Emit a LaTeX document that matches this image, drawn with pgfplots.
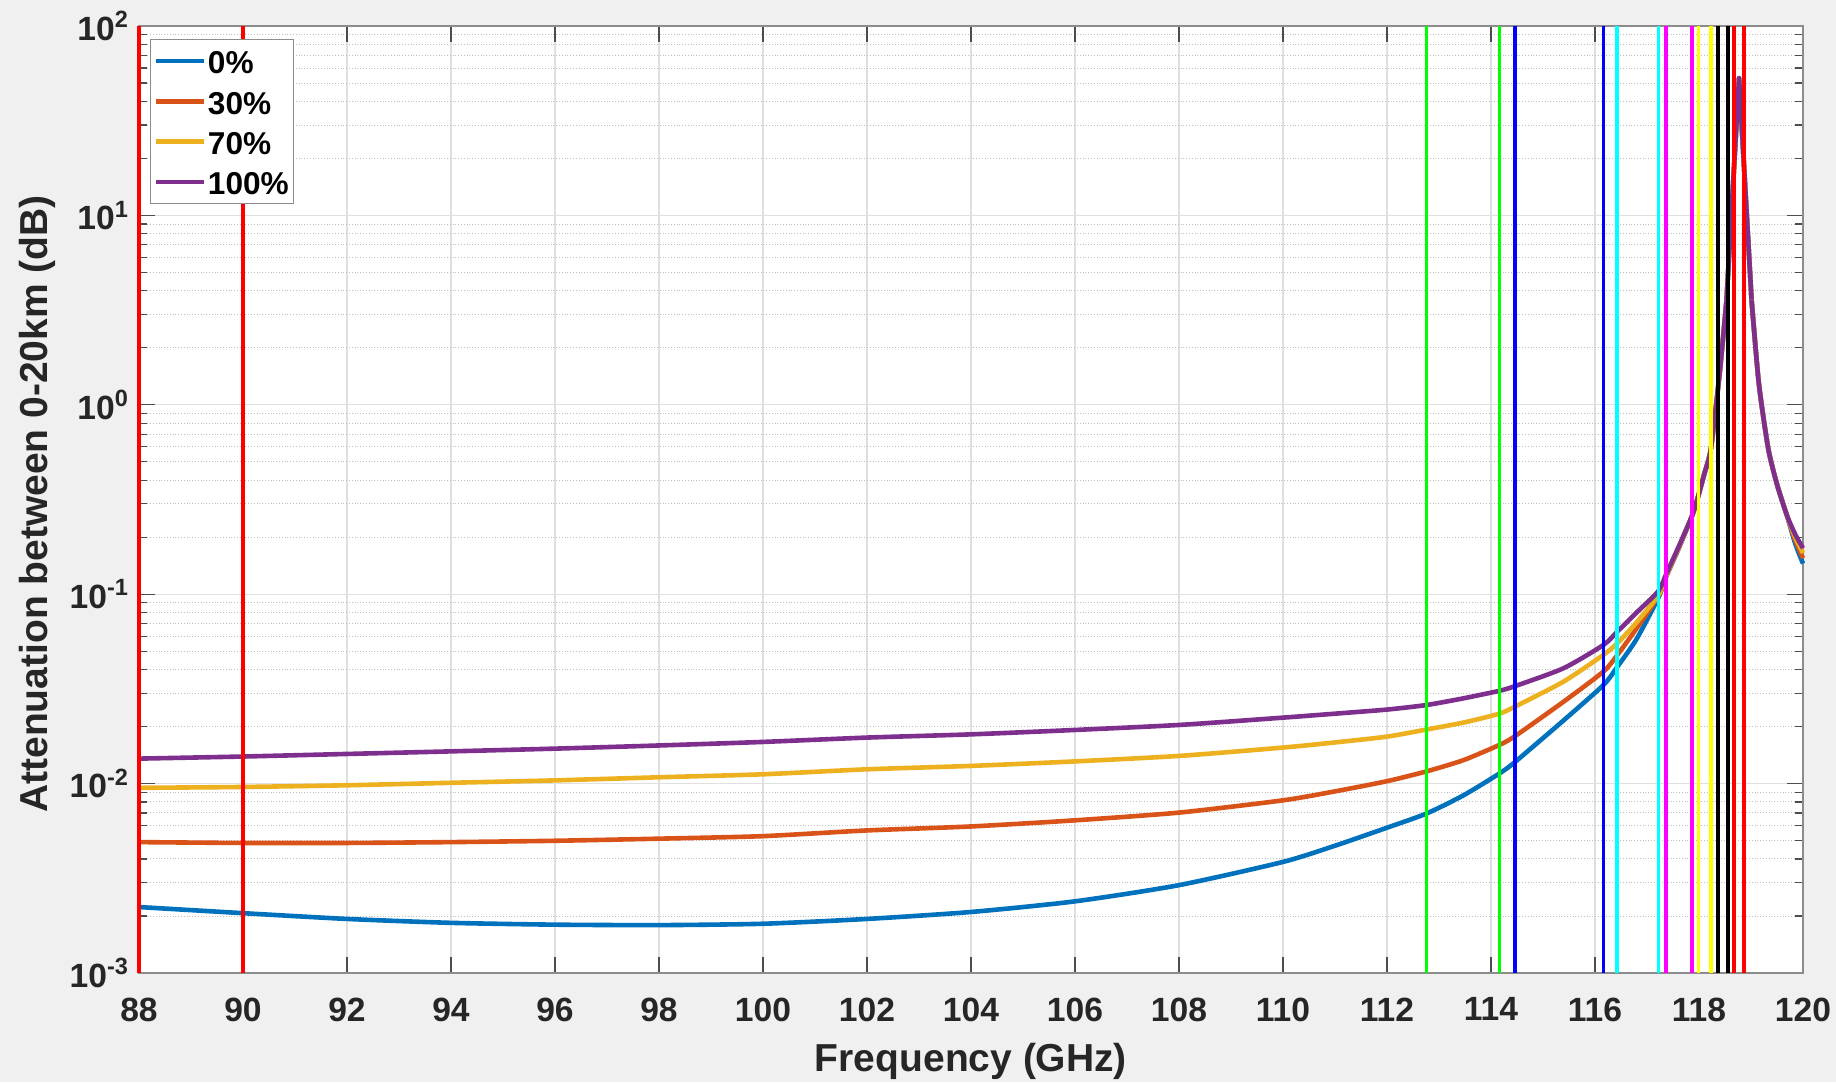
\documentclass[border=0pt]{standalone}
\usepackage{fontspec}
\setmainfont{Liberation Sans}
\usepackage{pgfplots}
\usepackage{pgfplotstable}
\pgfplotsset{compat=1.18}
\definecolor{mblue}{rgb}{0,0.447,0.741}
\definecolor{morange}{rgb}{0.85,0.325,0.098}
\definecolor{myellow}{rgb}{0.929,0.694,0.125}
\definecolor{mpurple}{rgb}{0.494,0.184,0.556}
\definecolor{figbg}{rgb}{0.941,0.941,0.941}
\definecolor{lred}{rgb}{1,0,0}
\definecolor{lgreen}{rgb}{0,1,0}
\definecolor{lblue}{rgb}{0,0,1}
\definecolor{lcyan}{rgb}{0,1,1}
\definecolor{lmagenta}{rgb}{1,0,1}
\definecolor{lyellow}{rgb}{1,1,0}
\definecolor{lblack}{rgb}{0,0,0}

\pgfplotstableread{
f a
88 2.23e-3
90 2.07e-3
92 1.93e-3
94 1.84e-3
96 1.80e-3
98 1.79e-3
100 1.82e-3
102 1.93e-3
104 2.10e-3
106 2.39e-3
108 2.91e-3
110 3.86e-3
111 4.70e-3
112 5.85e-3
112.76 6.95e-3
113.47 8.67e-3
114.16 0.0113
114.46 0.0130
115.39 0.0215
116.16 0.0331
116.43 0.0414
116.8 0.058
117.22 0.096
117.37 0.124
117.6 0.172
117.87 0.261
117.99 0.333
118.1 0.43
118.23 0.59
118.4 1.5
118.53 3.57
118.77 53
119.01 3.6
119.15 1.3
119.33 0.59
119.5 0.38
119.69 0.261
119.85 0.185
120 0.145
}\tblA

\pgfplotstableread{
f a
88 4.91e-3
90 4.86e-3
92 4.86e-3
94 4.91e-3
96 4.99e-3
98 5.12e-3
100 5.28e-3
102 5.66e-3
104 5.94e-3
106 6.40e-3
108 7.03e-3
110 8.16e-3
111 9.1e-3
112 0.0103
112.76 0.0116
113.47 0.0133
114.16 0.0160
114.46 0.0178
115.39 0.0270
116.16 0.0390
116.43 0.0478
116.8 0.066
117.22 0.098
117.37 0.125
117.6 0.173
117.87 0.261
117.99 0.333
118.1 0.43
118.23 0.59
118.4 1.5
118.53 3.57
118.77 53
119.01 3.6
119.15 1.3
119.33 0.59
119.5 0.38
119.69 0.261
119.85 0.193
120 0.155
}\tblB

\pgfplotstableread{
f a
88 9.5e-3
90 9.6e-3
92 9.8e-3
94 0.0101
96 0.0104
98 0.0108
100 0.0112
102 0.0119
104 0.0124
106 0.0131
108 0.0140
110 0.0155
111 0.0165
112 0.0177
112.76 0.0193
113.47 0.0210
114.16 0.0234
114.46 0.0255
115.39 0.0345
116.16 0.0478
116.43 0.0551
116.8 0.071
117.22 0.099
117.37 0.126
117.6 0.174
117.87 0.261
117.99 0.333
118.1 0.43
118.23 0.59
118.4 1.5
118.53 3.57
118.77 53
119.01 3.6
119.15 1.3
119.33 0.59
119.5 0.38
119.69 0.261
119.85 0.200
120 0.165
}\tblC

\pgfplotstableread{
f a
88 0.01355
90 0.0139
92 0.01434
94 0.0148
96 0.0153
98 0.0159
100 0.0166
102 0.0175
104 0.0182
106 0.0192
108 0.0204
110 0.0223
111 0.0234
112 0.0246
112.76 0.0260
113.47 0.0282
114.16 0.0309
114.46 0.0327
115.39 0.0406
116.16 0.0539
116.43 0.0635
116.8 0.080
117.22 0.104
117.37 0.128
117.6 0.176
117.87 0.261
117.99 0.333
118.1 0.43
118.23 0.59
118.4 1.5
118.53 3.57
118.77 53
119.01 3.6
119.15 1.3
119.33 0.59
119.5 0.38
119.69 0.261
119.85 0.207
120 0.175
}\tblD

\pgfplotsset{
  curve/.style={line width=2.3pt, line join=round},
  vline/.style={line width=1.8pt, forget plot},
}

\begin{document}
\begin{tikzpicture}
\fill[figbg] (0,0) rectangle (918pt,541pt);
\begin{axis}[
  scale only axis, width=832pt, height=473.5pt,
  at={(69.5pt,54.5pt)}, anchor=south west,
  axis background/.style={fill=white},
  clip=false,
  ymode=log,
  xmin=88, xmax=120, ymin=1e-3, ymax=1e2,
  xtick={88,90,...,120},
  minor xtick={},
  ytick={1e-3,1e-2,1e-1,1,10,100},
  yticklabels={10\textsuperscript{-3},10\textsuperscript{-2},10\textsuperscript{-1},10\textsuperscript{0},10\textsuperscript{1},10\textsuperscript{2}},
  minor ytick={2e-3,3e-3,4e-3,5e-3,6e-3,7e-3,8e-3,9e-3,2e-2,3e-2,4e-2,5e-2,6e-2,7e-2,8e-2,9e-2,0.2,0.3,0.4,0.5,0.6,0.7,0.8,0.9,2,3,4,5,6,7,8,9,20,30,40,50,60,70,80,90},
  /pgf/number format/assume math mode=true,
  xticklabel={\pgfmathprintnumber{\tick}},
  ticklabel style={font=\fontsize{16.8}{20}\selectfont\bfseries, text=black!85},
  xticklabel style={yshift=-8.8pt},
  yticklabel style={xshift=-1.5pt},
  label style={font=\fontsize{19.5}{23}\selectfont\bfseries, text=black!85},
  xlabel={Frequency (GHz)},
  ylabel={Attenuation between 0-20km (dB)},
  xlabel style={at={(axis description cs:0.5,-0.1042)}, anchor=base},
  ylabel style={at={(axis description cs:-0.0547,0.4953)}, anchor=base},
  xmajorgrids, ymajorgrids, yminorgrids,
  major grid style={black!12, line width=0.6pt},
  minor grid style={black!25, densely dotted, line width=0.5pt},
  axis line style={black!45, line width=0.7pt},
  tick style={black!70, line width=0.6pt},
  major tick length=8pt, minor tick length=4pt,
  legend style={at={(axis description cs:0.0066,0.9863)}, anchor=north west,
    font=\fontsize{15.8}{18}\selectfont\bfseries, draw=black!45, fill=white,
    inner xsep=1.5pt, inner ysep=1pt, row sep=0.7pt,
    nodes={inner sep=1pt, text height=15.2pt, text depth=2.3pt}},
  legend cell align=left,
  legend image code/.code={\draw[#1] (0pt,0pt) -- (24pt,0pt);},
]
% 0%
\addplot[mblue, curve, smooth, tension=0.4, restrict x to domain=88:118.535] table[x=f, y=a] {\tblA};
\addlegendentry{0\%}
% 30%
\addplot[morange, curve, smooth, tension=0.4, restrict x to domain=88:118.535] table[x=f, y=a] {\tblB};
\addlegendentry{30\%}
% 70%
\addplot[myellow, curve, smooth, tension=0.4, restrict x to domain=88:118.535] table[x=f, y=a] {\tblC};
\addlegendentry{70\%}
% 100%
\addplot[mpurple, curve, smooth, tension=0.4, restrict x to domain=88:118.535] table[x=f, y=a] {\tblD};
\addlegendentry{100\%}

\addplot[mblue, curve, smooth, tension=0.4, forget plot, restrict x to domain=119.005:120] table[x=f, y=a] {\tblA};
\addplot[morange, curve, smooth, tension=0.4, forget plot, restrict x to domain=119.005:120] table[x=f, y=a] {\tblB};
\addplot[myellow, curve, smooth, tension=0.4, forget plot, restrict x to domain=119.005:120] table[x=f, y=a] {\tblC};
\addplot[mpurple, curve, smooth, tension=0.4, forget plot, restrict x to domain=119.005:120] table[x=f, y=a] {\tblD};
\addplot[mblue, curve, forget plot, restrict x to domain=118.525:119.015] table[x=f, y=a] {\tblA};
\addplot[morange, curve, forget plot, restrict x to domain=118.525:119.015] table[x=f, y=a] {\tblB};
\addplot[myellow, curve, forget plot, restrict x to domain=118.525:119.015] table[x=f, y=a] {\tblC};
\addplot[mpurple, curve, forget plot, restrict x to domain=118.525:119.015] table[x=f, y=a] {\tblD};

\addplot[lred, vline] coordinates {(88,1e-3) (88,1e2)};
\addplot[lred, vline] coordinates {(90,1e-3) (90,1e2)};
\addplot[lgreen, vline] coordinates {(112.76,1e-3) (112.76,1e2)};
\addplot[lgreen, vline] coordinates {(114.16,1e-3) (114.16,1e2)};
\addplot[lblue, vline] coordinates {(114.46,1e-3) (114.46,1e2)};
\addplot[lblue, vline] coordinates {(116.16,1e-3) (116.16,1e2)};
\addplot[lcyan, vline] coordinates {(116.42,1e-3) (116.42,1e2)};
\addplot[lcyan, vline] coordinates {(117.22,1e-3) (117.22,1e2)};
\addplot[lmagenta, vline] coordinates {(117.37,1e-3) (117.37,1e2)};
\addplot[lmagenta, vline] coordinates {(117.87,1e-3) (117.87,1e2)};
\addplot[lyellow, vline] coordinates {(117.99,1e-3) (117.99,1e2)};
\addplot[lyellow, vline] coordinates {(118.23,1e-3) (118.23,1e2)};
\addplot[lblack, vline] coordinates {(118.37,1e-3) (118.37,1e2)};
\addplot[lblack, vline] coordinates {(118.56,1e-3) (118.56,1e2)};
\addplot[lred, vline] coordinates {(118.67,1e-3) (118.67,1e2)};
\addplot[lred, vline] coordinates {(118.87,1e-3) (118.87,1e2)};
\end{axis}
\pgfresetboundingbox
\useasboundingbox (0,0) rectangle (918pt,541pt);
\end{tikzpicture}
\end{document}
